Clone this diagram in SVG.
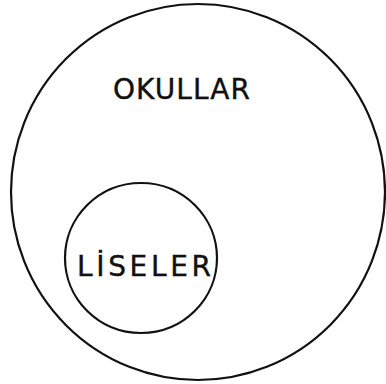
<svg xmlns="http://www.w3.org/2000/svg" width="386" height="384" viewBox="0 0 386 384">
<style>
.c{fill:none;stroke:#111;stroke-width:2.2}
.t{font-family:"DejaVu Sans","Liberation Sans",sans-serif;font-size:28px;fill:#111;stroke:#111;stroke-width:0.4}
</style>
<rect width="386" height="384" fill="#fff"/>
<g id="okullar">
<ellipse class="c" cx="198" cy="192" rx="187" ry="188"/>
<text class="t" x="113" y="99" textLength="137" lengthAdjust="spacing">OKULLAR</text>
</g>
<g id="liseler">
<ellipse class="c" cx="141" cy="258" rx="76" ry="75"/>
<text class="t" x="77" y="276" textLength="134" lengthAdjust="spacing">LİSELER</text>
</g>
<g id="connectors"/>
</svg>
